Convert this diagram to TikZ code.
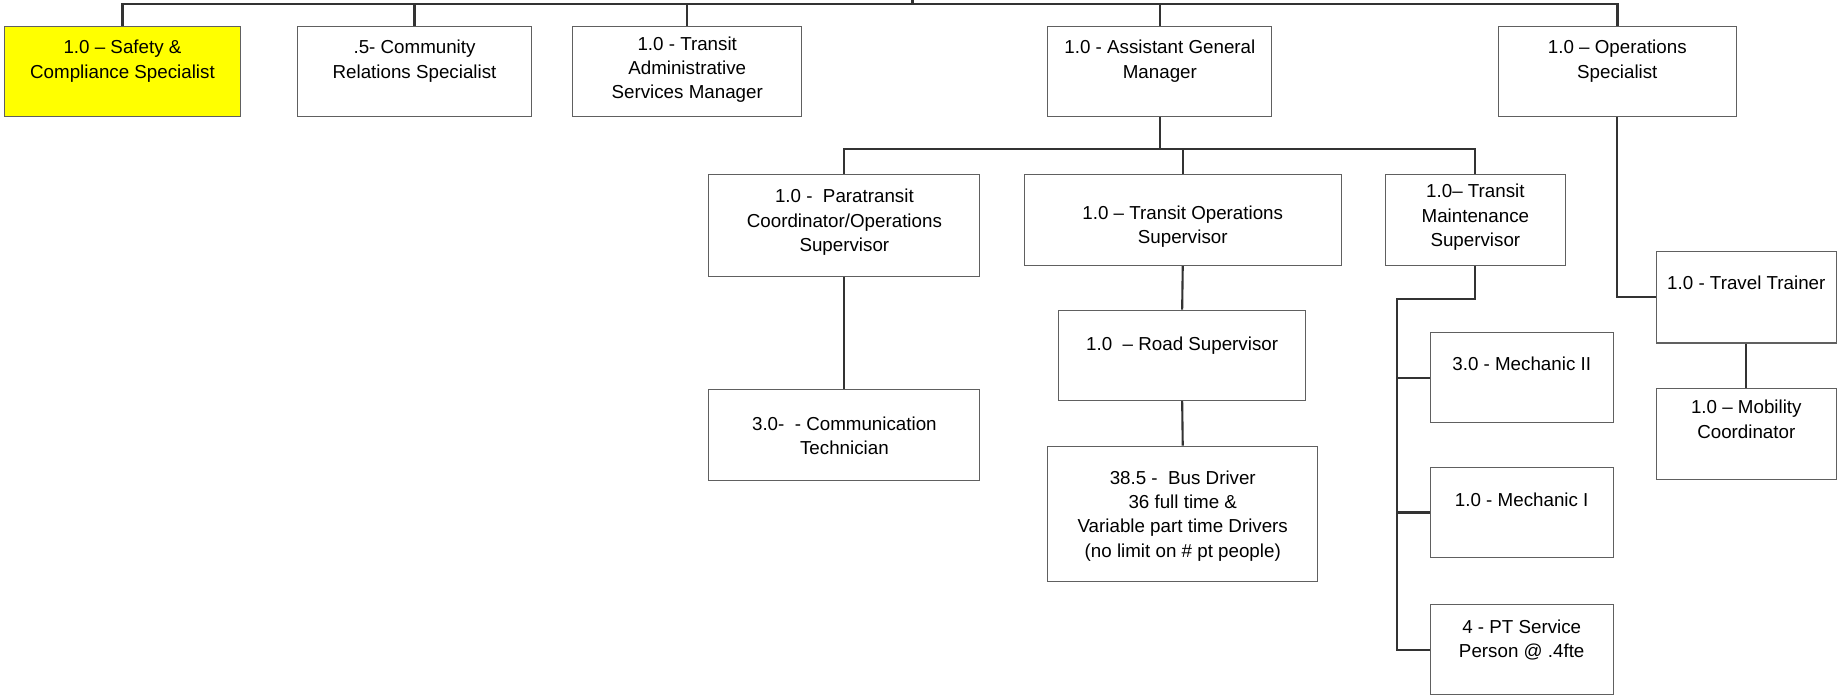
\documentclass[tikz,border=0pt]{standalone}
\usepackage{fontspec}
\setmainfont{Liberation Sans}
\usepackage{xcolor}
\usetikzlibrary{positioning}
\definecolor{boxgray}{RGB}{96,96,96}
\definecolor{linegray}{RGB}{51,51,51}
\definecolor{safetyyellow}{RGB}{255,255,0}

\begin{document}
\begin{tikzpicture}[x=1pt, y=-1pt,
    box/.style={rectangle, draw=boxgray, line width=0.9pt, fill=white, inner sep=0pt, anchor=north west},
    txt/.style={align=center, inner sep=0pt, font=\fontsize{16}{20.8}\selectfont},
    link/.style={draw=linegray, line width=1.8pt}]
\useasboundingbox (0,0) rectangle (1568,593);

% erste Ebene
\node[box, fill=safetyyellow, minimum width=202pt, minimum height=77pt] (safety) at (3,22) {};
\node[txt, below=12pt of safety.north] (safetyT) {1.0 -- Safety \&\\Compliance Specialist};
\node[box, minimum width=200pt, minimum height=77pt] (community) at (253,22) {};
\node[txt, below=12pt of community.north] (communityT) {.5- Community\\Relations Specialist};
\node[box, minimum width=195pt, minimum height=77pt] (admin) at (488,22) {};
\node[txt, below=9pt of admin.north] (adminT) {1.0 - Transit\\Administrative\\Services Manager};
\node[box, minimum width=191pt, minimum height=77pt] (agm) at (893,22) {};
\node[txt, below=12pt of agm.north] (agmT) {1.0 - Assistant General\\Manager};
\node[box, minimum width=203pt, minimum height=77pt] (opsspec) at (1277,22) {};
\node[txt, below=12pt of opsspec.north] (opsspecT) {1.0 -- Operations\\Specialist};

% zweite Ebene
\node[box, minimum width=231pt, minimum height=87pt] (paratransit) at (604,148) {};
\node[txt, below=13pt of paratransit.north] (paratransitT) {1.0 - \ Paratransit\\Coordinator/Operations\\Supervisor};
\node[box, minimum width=270pt, minimum height=78pt] (transitops) at (873,148) {};
\node[txt, below=27pt of transitops.north] (transitopsT) {1.0 -- Transit Operations\\Supervisor};
\node[box, minimum width=153pt, minimum height=78pt] (maint) at (1181,148) {};
\node[txt, below=9pt of maint.north] (maintT) {1.0-- Transit\\Maintenance\\Supervisor};
\node[box, minimum width=153pt, minimum height=78pt] (travel) at (1412,214) {};
\node[txt, below=21pt of travel.north] (travelT) {1.0 - Travel Trainer};

% dritte Ebene
\node[box, minimum width=231pt, minimum height=77pt] (communication) at (604,332) {};
\node[txt, below=23pt of communication.north] (communicationT) {3.0- \ - Communication\\Technician};
\node[box, minimum width=211pt, minimum height=77pt] (road) at (902,264) {};
\node[txt, below=23pt of road.north] (roadT) {1.0 \ -- Road Supervisor};
\node[box, minimum width=230pt, minimum height=115pt] (busdriver) at (893,380) {};
\node[txt, below=21pt of busdriver.north] (busdriverT) {38.5 - \ Bus Driver\\36 full time \&\\Variable part time Drivers\\(no limit on \# pt people)};
\node[box, minimum width=156pt, minimum height=77pt] (mech2) at (1219,283) {};
\node[txt, below=21pt of mech2.north] (mech2T) {3.0 - Mechanic II};
\node[box, minimum width=156pt, minimum height=77pt] (mech1) at (1219,398) {};
\node[txt, below=22pt of mech1.north] (mech1T) {1.0 - Mechanic I};
\node[box, minimum width=156pt, minimum height=77pt] (ptservice) at (1219,515) {};
\node[txt, below=13pt of ptservice.north] (ptserviceT) {4 - PT Service\\Person @ .4fte};
\node[box, minimum width=153pt, minimum height=77pt] (mobility) at (1412,331) {};
\node[txt, below=10pt of mobility.north] (mobilityT) {1.0 -- Mobility\\Coordinator};

% Verbindungen
\coordinate (gm) at (778,0);
\coordinate (topbus) at (778,3.5);
\coordinate (lvl2) at (0,127);
\coordinate (mbus) at (1191,255);
\draw[link, line width=2.2pt] (gm) -- (topbus);
\draw[link, line width=2.2pt] (safety.north) |- (topbus) -| (opsspec.north);
\draw[link] (community.north) -- (community.north |- topbus);
\draw[link] (admin.north) -- (admin.north |- topbus);
\draw[link] (agm.north) -- (agm.north |- topbus);
\draw[link] (agm.south) -- (agm.south |- lvl2);
\draw[link] (paratransit.north) |- (agm.south |- lvl2) -| (maint.north);
\draw[link] (transitops.north) -- (transitops.north |- lvl2);
\draw[link] (paratransit.south) -- (communication.north);
\draw[link] (transitops.south) -- (road.north);
\draw[link] (road.south) -- (busdriver.north);
\draw[link] (maint.south) |- (mbus) |- (ptservice.west);
\draw[link] (mech2.west) -- (mech2.west -| mbus);
\draw[link] (mech1.west) -- (mech1.west -| mbus);
\draw[link] (opsspec.south) |- (travel.west);
\draw[link] (travel.south) -- (mobility.north);
\end{tikzpicture}
\end{document}
